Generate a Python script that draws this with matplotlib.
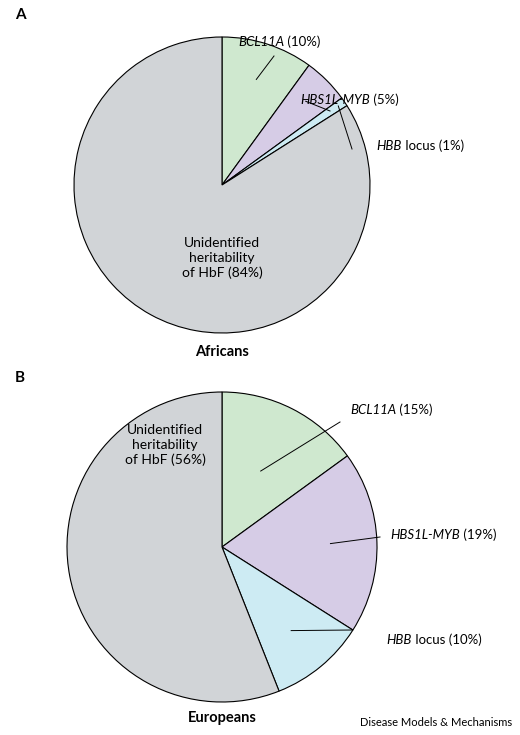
import matplotlib
matplotlib.use("Agg")
import matplotlib.pyplot as plt
import numpy as np

plt.rcParams['font.family'] = ['Lato', 'DejaVu Sans']

labels_it = ["BCL11A", "HBS1L-MYB", "HBB", ""]
labels_rest = [" (10%)", " (5%)", " locus (1%)", ""]
africans = [10, 5, 1, 84]
europeans = [15, 19, 10, 56]
europeans_rest = [" (15%)", " (19%)", " locus (10%)", ""]
colors = ["#cfe8cf", "#d6cce6", "#cdebf3", "#d1d4d7"]

H = 735
fig = plt.figure(figsize=(5.2, 7.35), dpi=100)
ax = fig.add_axes([0, 0, 1, 1])
ax.set_xlim(0, 520); ax.set_ylim(0, H); ax.axis('off')

def Y(y): return H - y

def draw(vals, cx, cy, r, rests, textpos, unid_pos, unid_pct, fr):
    ax.pie(vals, colors=colors, startangle=90, counterclock=False,
           center=(cx, Y(cy)), radius=r, frame=True,
           wedgeprops=dict(edgecolor='black', linewidth=0.8))
    cum = 0
    for i in range(3):
        mid = 90 - 360 * (cum + vals[i] / 2) / 100
        cum += vals[i]
        a = np.deg2rad(mid)
        px, py = cx + fr[i] * r * np.cos(a), cy - fr[i] * r * np.sin(a)
        tx, ty, lx, ly = textpos[i]
        ax.plot([lx, px], [Y(ly), Y(py)], color='black', lw=0.7)
        ax.text(tx, Y(ty), labels_it[i], style='italic', ha='right', va='center', fontsize=9.5)
        ax.text(tx, Y(ty), rests[i], ha='left', va='center', fontsize=9.5)
    ax.text(unid_pos[0], Y(unid_pos[1]),
            "Unidentified\nheritability\nof HbF (%d%%)" % unid_pct,
            ha='center', va='center', fontsize=10, linespacing=1.3)

draw(africans, 222, 185, 148, labels_rest,
     [(284, 42, 274, 56), (370, 100, 330, 111), (402, 146, 352, 149)],
     (222, 258), africans[3], [0.75, 0.8, 0.95])
draw(europeans, 222, 547, 155, europeans_rest,
     [(396, 410, 340, 422), (460, 535, 380, 537), (412, 640, 352, 630)],
     (165, 445), europeans[3], [0.55, 0.7, 0.7])
ax.set_xlim(0, 520); ax.set_ylim(0, H); ax.set_aspect('auto')

ax.text(15, Y(15), "A", fontweight='bold', fontsize=11, va='center')
ax.text(15, Y(378), "B", fontweight='bold', fontsize=11, va='center')
ax.text(222, Y(352), "Africans", fontweight='bold', fontsize=10.5, ha='center', va='center')
ax.text(222, Y(718), "Europeans", fontweight='bold', fontsize=10.5, ha='center', va='center')
ax.text(512, Y(723), "Disease Models & Mechanisms", fontsize=8, ha='right', va='center')

fig.savefig("out.png", dpi=100)
